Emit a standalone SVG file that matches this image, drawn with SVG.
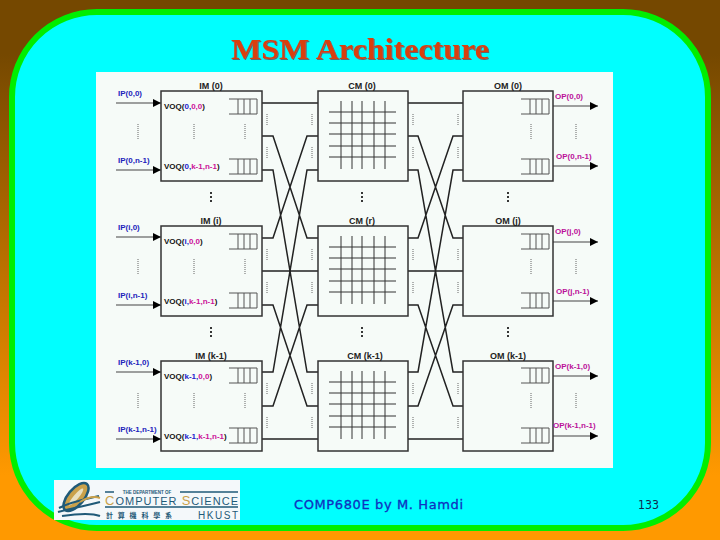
<svg xmlns="http://www.w3.org/2000/svg" xmlns:xlink="http://www.w3.org/1999/xlink" width="720" height="540" viewBox="0 0 720 540">
<style>
text{font-family:"Liberation Sans",Arial,sans-serif}
.t{font-size:9px;font-weight:bold;fill:#222;text-anchor:middle}
.l{font-size:8px;font-weight:bold}
.ip{fill:#2222bb}.op{fill:#bb1199}
.v{font-size:8px;font-weight:bold;fill:#111}
.b{fill:#2222cc}.p{fill:#cc1199}
.box{fill:none;stroke:#333;stroke-width:1.5}
.w{fill:none;stroke:#222;stroke-width:1.5}
.g{stroke:#555;stroke-width:1;fill:none}
.d{stroke:#666;stroke-width:1;stroke-dasharray:1 1;fill:none}
.e{stroke:#222;stroke-width:1.8;stroke-dasharray:2 2;fill:none}
.a{stroke:#444;stroke-width:1.2;fill:none;marker-end:url(#ah)}
</style>
<defs>
<linearGradient id="bg" x1="0" y1="0" x2="0" y2="1"><stop offset="0.1" stop-color="#754800"/><stop offset="0.88" stop-color="#ff9900"/></linearGradient>
<filter id="sh" x="-5%" y="-20%" width="110%" height="140%"><feDropShadow dx="1" dy="1" stdDeviation="0.4" flood-color="#666"/></filter>
<marker id="ah" markerUnits="userSpaceOnUse" markerWidth="8" markerHeight="8" refX="8" refY="4" orient="auto"><path d="M0 0L8 4L0 8Z" fill="#000"/></marker>
<g id="q"><path class="g" d="M0 0H28M0 15H28M9 0V15M15 0V15M21 0V15M28 0V15"/></g>
<g id="xb"><path class="g" style="stroke:#333" d="M0 0H67M0 11H67M0 22H67M0 34H67M0 45H67M12 -11V57M23 -11V57M33 -11V57M45 -11V57M56 -11V57"/></g>
</defs>
<rect width="720" height="540" fill="url(#bg)"/>
<rect x="12" y="12" width="696" height="516" rx="85" fill="#00ffff" stroke="#00ee00" stroke-width="6"/>
<text x="360" y="59" text-anchor="middle" textLength="258" lengthAdjust="spacingAndGlyphs" filter="url(#sh)" style="font-family:'Liberation Serif',serif;font-size:30px;font-weight:bold" fill="#d8400f">MSM Architecture</text>
<rect x="96" y="72" width="517" height="396" fill="#f6fbf8"/>
<g id="connectors">
<path class="w" d="M262 103H318M262 136H273L307 238H318M262 170H273L307 372H318M262 238H273L307 136H318M262 271H318M262 305H273L307 406H318M262 372H273L307 170H318M262 406H273L307 305H318M262 439H318"/>
<path class="w" d="M408 103H463M408 136H418L453 238H463M408 170H418L453 372H463M408 238H418L453 136H463M408 271H463M408 305H418L453 406H463M408 372H418L453 170H463M408 406H418L453 305H463M408 439H463"/>
<path class="d" d="M267 114V125M267 147V158M312 114V125M312 147V158M413 114V125M413 147V158M458 114V125M458 147V158M267 249V260M267 282V293M312 249V260M312 282V293M413 249V260M413 282V293M458 249V260M458 282V293M267 383V394M267 417V428M312 383V394M312 417V428M413 383V394M413 417V428M458 383V394M458 417V428"/>
<path class="a" d="M116 103H161"/><path class="a" d="M116 170H161"/><path class="a" d="M116 237H161"/><path class="a" d="M116 305H161"/><path class="a" d="M116 372H161"/><path class="a" d="M116 439H161"/>
<path class="a" d="M553 106H598"/><path class="a" d="M553 166H598"/><path class="a" d="M553 242H598"/><path class="a" d="M553 301H598"/><path class="a" d="M553 376H598"/><path class="a" d="M553 436H598"/>
<path class="d" d="M138 124V140M138 259V275M138 393V409M576 124V140M576 259V275M576 393V409"/>
<path class="e" d="M211 192V204M362 192V204M508 192V204M211 327V339M362 327V339M508 327V339"/>
</g>
<g id="im0"><rect class="box" x="161" y="91" width="101" height="90"/><text class="t" x="211" y="89">IM (0)</text><use xlink:href="#q" x="229" y="99"/><use xlink:href="#q" x="229" y="159"/><path class="d" d="M194 124V140M245 124V140"/></g>
<g id="imi"><rect class="box" x="161" y="226" width="101" height="90"/><text class="t" x="211" y="224">IM (i)</text><use xlink:href="#q" x="229" y="234"/><use xlink:href="#q" x="229" y="293"/><path class="d" d="M194 259V275M245 259V275"/></g>
<g id="imk"><rect class="box" x="161" y="361" width="101" height="90"/><text class="t" x="211" y="359">IM (k-1)</text><use xlink:href="#q" x="229" y="368"/><use xlink:href="#q" x="229" y="428"/><path class="d" d="M194 393V409M245 393V409"/></g>
<g id="cm0"><rect class="box" x="318" y="91" width="90" height="90"/><text class="t" x="362" y="89">CM (0)</text><use xlink:href="#xb" x="329" y="112"/></g>
<g id="cmr"><rect class="box" x="318" y="226" width="90" height="90"/><text class="t" x="362" y="224">CM (r)</text><use xlink:href="#xb" x="329" y="247"/></g>
<g id="cmk"><rect class="box" x="318" y="361" width="90" height="90"/><text class="t" x="365" y="359">CM (k-1)</text><use xlink:href="#xb" x="329" y="382"/></g>
<g id="om0"><rect class="box" x="463" y="91" width="90" height="90"/><text class="t" x="508" y="89">OM (0)</text><use xlink:href="#q" x="521" y="99"/><use xlink:href="#q" x="521" y="159"/><path class="d" d="M531 124V140"/></g>
<g id="omj"><rect class="box" x="463" y="226" width="90" height="90"/><text class="t" x="508" y="224">OM (j)</text><use xlink:href="#q" x="521" y="234"/><use xlink:href="#q" x="521" y="293"/><path class="d" d="M531 259V275"/></g>
<g id="omk"><rect class="box" x="463" y="361" width="90" height="90"/><text class="t" x="508" y="359">OM (k-1)</text><use xlink:href="#q" x="521" y="368"/><use xlink:href="#q" x="521" y="428"/><path class="d" d="M531 393V409"/></g>
<g id="labels">
<text class="l ip" x="118" y="96">IP(0,0)</text><text class="l ip" x="118" y="163">IP(0,n-1)</text><text class="l ip" x="118" y="230">IP(i,0)</text><text class="l ip" x="118" y="298">IP(i,n-1)</text><text class="l ip" x="118" y="365">IP(k-1,0)</text><text class="l ip" x="118" y="432">IP(k-1,n-1)</text>
<text class="l op" x="555" y="99">OP(0,0)</text><text class="l op" x="556" y="159">OP(0,n-1)</text><text class="l op" x="555" y="234">OP(j,0)</text><text class="l op" x="556" y="294">OP(j,n-1)</text><text class="l op" x="555" y="369">OP(k-1,0)</text><text class="l op" x="553" y="428">OP(k-1,n-1)</text>
<text class="v" x="164" y="109">VOQ(<tspan class="b">0,</tspan><tspan class="p">0,0</tspan>)</text>
<text class="v" x="164" y="169">VOQ(<tspan class="b">0,</tspan><tspan class="p">k-1,n-1</tspan>)</text>
<text class="v" x="164" y="244">VOQ(<tspan class="b">i,</tspan><tspan class="p">0,0</tspan>)</text>
<text class="v" x="164" y="304">VOQ(<tspan class="b">i,</tspan><tspan class="p">k-1,n-1</tspan>)</text>
<text class="v" x="164" y="379">VOQ(<tspan class="b">k-1,</tspan><tspan class="p">0,0</tspan>)</text>
<text class="v" x="164" y="439">VOQ(<tspan class="b">k-1,</tspan><tspan class="p">k-1,n-1</tspan>)</text>
</g>
<g id="logo">
<rect x="54" y="480" width="186" height="40" fill="#f4f8fa"/>
<ellipse cx="76" cy="497" rx="8" ry="17" transform="rotate(40 76 497)" fill="#c9a14a" stroke="#1f5a78" stroke-width="2.5"/>
<ellipse cx="76" cy="497" rx="2.5" ry="11" transform="rotate(40 76 497)" fill="#e8e0c0"/>
<path d="M59 508C70 502 86 499 99 496M58 512C72 508 90 505 100 502M62 516C75 514 90 512 100 516" fill="none" stroke="#1f5a78" stroke-width="2"/>
<path d="M80 502C88 497 94 496 100 498" fill="none" stroke="#c9a14a" stroke-width="2"/>
<path d="M105 492H238M105 507H238" stroke="#1f5a78" stroke-width="1.6"/>
<rect x="114" y="488" width="66" height="6" fill="#f4f8fa"/>
<text x="147" y="494" text-anchor="middle" font-size="4.5" font-weight="bold" fill="#1f5a78">THE DEPARTMENT OF</text>
<text x="105" y="505" font-size="11" fill="#1f5a78" textLength="133"><tspan fill="#c9a14a" font-size="13">C</tspan>OMPUTER <tspan fill="#c9a14a" font-size="13">S</tspan>CIENCE</text>
<text x="106" y="518" font-size="7" font-weight="bold" fill="#1f5a78" textLength="66" style="font-family:'Noto Sans CJK TC',sans-serif">計算機科學系</text>
<text x="198" y="519" font-size="10" fill="#1f5a78" textLength="40">HKUST</text>
</g>
<text x="294" y="509" textLength="169" stroke="#1030c0" stroke-width="0.3" style="font-family:'DejaVu Sans',sans-serif;font-size:13px" fill="#1030c0">COMP680E by M. Hamdi</text>
<text x="638" y="509" textLength="21" lengthAdjust="spacingAndGlyphs" style="font-family:'DejaVu Sans',sans-serif;font-size:13px" fill="#102a50">133</text>
</svg>
